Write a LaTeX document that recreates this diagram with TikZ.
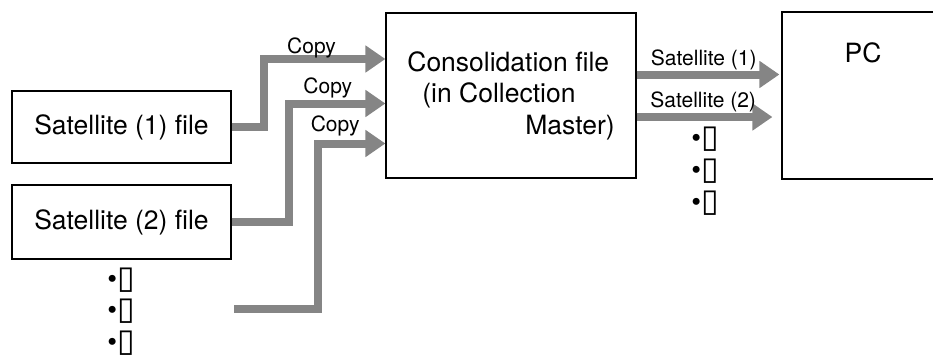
\documentclass[tikz,border=0pt]{standalone}
\usepackage{fontspec}
\setmainfont{TeX Gyre Heros}
\newfontfamily\glyphfont{DejaVu Sans}
\usetikzlibrary{positioning,arrows.meta,calc}
\newcommand{\tofu}{{\glyphfont\fontsize{32}{34}\selectfont ▯}}

\begin{document}
\begin{tikzpicture}[x=1pt, y=-1pt, >={Triangle[length=20pt,width=26pt]},
  font=\fontsize{26.5}{31.5}\selectfont,
  box/.style={draw, line width=1.2pt, inner sep=0pt, align=center},
  pipe/.style={draw=black!48, line width=8pt, ->},
  tag/.style={font=\fontsize{21}{25}\selectfont, anchor=base, inner sep=0pt},
  etc/.style={font=\fontsize{28}{30}\selectfont, inner sep=0pt}]
\useasboundingbox (0,0) rectangle (933,354);
\node[box, minimum width=219pt, minimum height=72pt] (sat1) at (121.5,127) {Satellite (1) file};
\node[box, minimum width=219pt, minimum height=74pt] (sat2) at (121.5,222) {Satellite (2) file};
\node[box, minimum width=250pt, minimum height=165pt, align=left] (cons) at (511,95.5)
  {Consolidation file\\\hspace*{15pt}(in Collection\\\hspace*{118pt}Master)};
\node[box, minimum width=162pt, minimum height=167pt,
  label={[name=pctext, anchor=north, inner sep=0pt, yshift=-31pt]north:PC}] (pc) at (863,95.5) {};
% copies into the consolidation file
\coordinate (in1) at (cons.west |- 0,59);
\coordinate (in2) at (cons.west |- 0,103.5);
\coordinate (in3) at (cons.west |- 0,143.5);
\coordinate (loose) at (234,309);
\draw[pipe] (sat1.east) -| ([xshift=-121pt]in1) -- node[tag, pos=.39, yshift=6pt] (copy1) {Copy} (in1);
\draw[pipe] (sat2.east) -| ([xshift=-96pt]in2) -- node[tag, pos=.40, yshift=10.5pt] (copy2) {Copy} (in2);
\draw[pipe] (loose) -| ([xshift=-67pt]in3) -- node[tag, pos=.25, yshift=12pt] (copy3) {Copy} (in3);
% out to the PC
\coordinate (out1) at (cons.east |- 0,74.5);
\coordinate (out2) at (cons.east |- 0,117);
\draw[pipe] (out1) -- node[tag, pos=.47, yshift=9.5pt] (sent1) {Satellite (1)} ($(pc.west |- out1)+(-2,0)$);
\draw[pipe] (out2) -- node[tag, pos=.49, yshift=9.5pt] (sent2) {Satellite (2)} ($(pc.west |- out2)+(-9,0)$);
% more satellites
\foreach \i in {0,1,2} {
  \node[etc] (morein-\i) at (121,280+31.5*\i) {•\tofu};
  \node[etc] (moreout-\i) at (705,139+32*\i) {•\tofu};
}
\end{tikzpicture}
\end{document}
